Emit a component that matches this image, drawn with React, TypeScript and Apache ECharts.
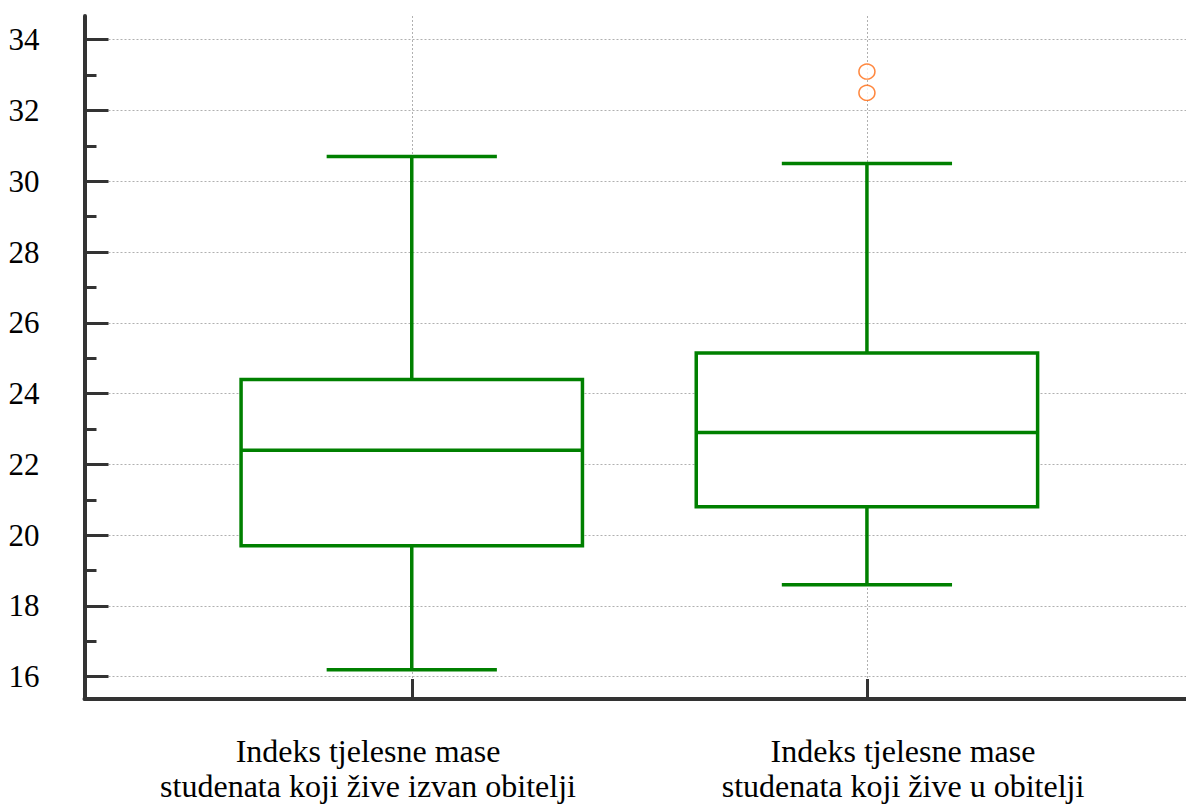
import React, { useEffect, useRef } from "react";
import * as echarts from "echarts";

const categories = [
  "Indeks tjelesne mase\nstudenata koji žive izvan obitelji",
  "Indeks tjelesne mase\nstudenata koji žive u obitelji",
];
// [min, Q1, median, Q3, max]
const boxValues = [
  [16.2, 19.7, 22.4, 24.4, 30.7],
  [18.6, 20.8, 22.9, 25.15, 30.5],
];
// outliers: [categoryIndex, value]
const outliers = [
  [1, 33.1],
  [1, 32.5],
];
const yTicks = [16, 18, 20, 22, 24, 26, 28, 30, 32, 34];
const yMinorTicks = [17, 19, 21, 23, 25, 27, 29, 31, 33];

const GREEN = "#008000";
const AXIS = "#333333";

export default function App() {
  const ref = useRef<HTMLDivElement>(null);
  useEffect(() => {
    document.body.style.margin = "0";
    const chart = echarts.init(ref.current!, null, { renderer: "svg" });
    const xPos = categories.map((_, i) => i + 1);
    const boxData = boxValues.map((b, i) => [xPos[i], ...b]);
    const outData = outliers.map(([i, v]) => [xPos[i], v]);
    const yMin = 15.37;
    const yMax = 34.67;
    const xMin = 0.281;
    const xMax = 2.701;
    const font = "'Liberation Serif', 'Times New Roman', serif";
    const grid = "#b0b0b0";
    const option: any = {
      animation: false,
      backgroundColor: "#ffffff",
      grid: { left: 84.5, right: 0, top: 16, bottom: 112, containLabel: false },
      xAxis: [
        {
          type: "value",
          min: xMin,
          max: xMax,
          axisLine: { show: true, lineStyle: { color: AXIS, width: 4 } },
          axisTick: {
            show: true,
            inside: true,
            length: 20,
            customValues: xPos,
            lineStyle: { color: AXIS, width: 3 },
          },
          axisLabel: { show: false },
          splitLine: {
            show: true,
            lineStyle: { color: grid, type: [2, 2], width: 1 },
          },
        },
        {
          type: "value",
          position: "bottom",
          min: 0.47,
          max: 2.529,
          axisLine: { show: false },
          axisTick: { show: false },
          splitLine: { show: false },
          axisLabel: {
            show: true,
            customValues: xPos,
            formatter: (v: number) => categories[Math.round(v) - 1] ?? "",
            color: "#000",
            fontFamily: font,
            fontSize: 32,
            lineHeight: 35,
            margin: 34,
          },
        },
      ],
      yAxis: [
        {
          type: "value",
          min: yMin,
          max: yMax,
          axisLine: { show: true, lineStyle: { color: AXIS, width: 4 } },
          axisTick: {
            show: true,
            inside: true,
            length: 24,
            customValues: yTicks,
            lineStyle: { color: AXIS, width: 3 },
          },
          axisLabel: {
            show: true,
            customValues: yTicks,
            color: "#000",
            fontFamily: font,
            fontSize: 31,
            margin: 45,
          },
          splitLine: {
            show: true,
            lineStyle: { color: grid, type: [2, 2], width: 1 },
          },
        },
        {
          type: "value",
          min: yMin,
          max: yMax,
          position: "left",
          axisLine: { show: false },
          axisTick: {
            show: true,
            inside: true,
            length: 12,
            customValues: yMinorTicks,
            lineStyle: { color: AXIS, width: 3 },
          },
          axisLabel: { show: false },
          splitLine: { show: false },
        },
      ],
      series: [
        {
          type: "custom",
          data: boxData,
          z: 5,
          renderItem: (params: any, api: any) => {
            const x = api.value(0);
            const mn = api.value(1);
            const q1 = api.value(2);
            const med = api.value(3);
            const q3 = api.value(4);
            const mx = api.value(5);
            const hw = 0.375;
            const cw = 0.187;
            const pTL = api.coord([x - hw, q3]);
            const pBR = api.coord([x + hw, q1]);
            const c = api.coord([x, med]);
            const pMax = api.coord([x, mx]);
            const pMin = api.coord([x, mn]);
            const capL = api.coord([x - cw, mx]);
            const capR = api.coord([x + cw, mx]);
            const capL2 = api.coord([x - cw, mn]);
            const capR2 = api.coord([x + cw, mn]);
            const ls = { stroke: GREEN, lineWidth: 3.5, fill: null };
            return {
              type: "group",
              children: [
                { type: "line", shape: { x1: pMax[0], y1: pMax[1], x2: pMax[0], y2: pTL[1] }, style: ls },
                { type: "line", shape: { x1: pMin[0], y1: pMin[1], x2: pMin[0], y2: pBR[1] }, style: ls },
                { type: "line", shape: { x1: capL[0], y1: capL[1], x2: capR[0], y2: capR[1] }, style: ls },
                { type: "line", shape: { x1: capL2[0], y1: capL2[1], x2: capR2[0], y2: capR2[1] }, style: ls },
                {
                  type: "rect",
                  shape: { x: pTL[0], y: pTL[1], width: pBR[0] - pTL[0], height: pBR[1] - pTL[1] },
                  style: { stroke: GREEN, lineWidth: 3.5, fill: "#ffffff" },
                },
                { type: "line", shape: { x1: pTL[0], y1: c[1], x2: pBR[0], y2: c[1] }, style: ls },
              ],
            };
          },
          encode: { x: 0, y: [1, 2, 3, 4, 5] },
        },
        {
          type: "scatter",
          data: outData,
          symbol: "circle",
          symbolSize: [16, 15],
          z: 6,
          itemStyle: { color: "#ffffff", borderColor: "#ff6a10", borderWidth: 1.5 },
        },
      ],
    };
    chart.setOption(option);
    return () => chart.dispose();
  }, []);
  return <div ref={ref} style={{ width: 1186, height: 811 }} />;
}
